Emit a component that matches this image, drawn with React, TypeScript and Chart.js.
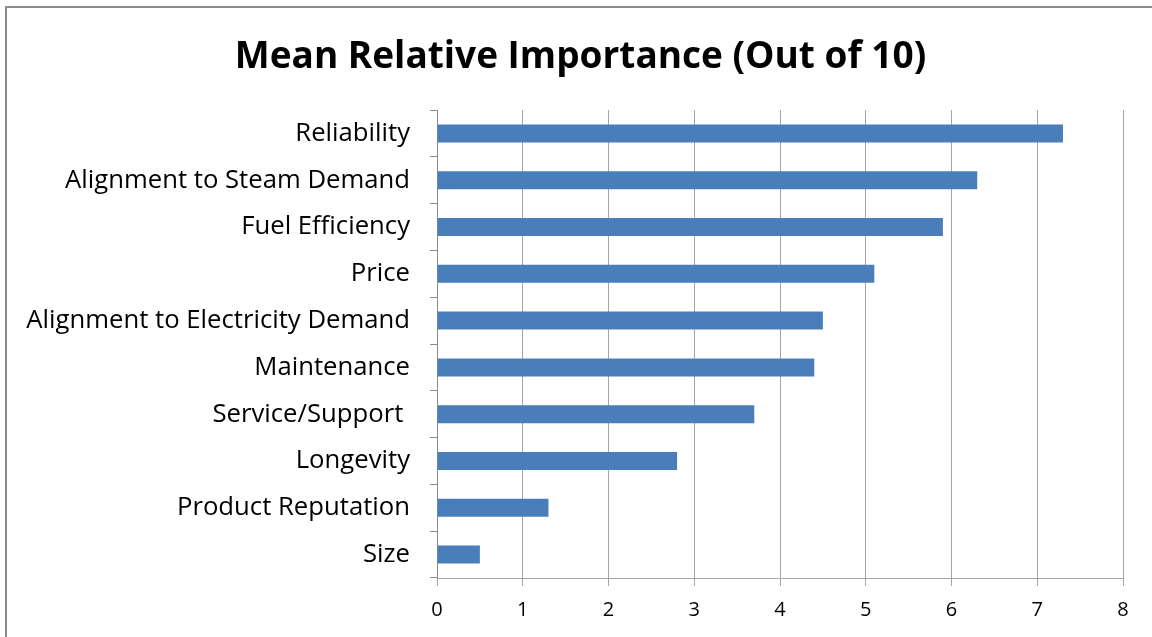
import React, { useEffect, useRef } from "react";
import { Chart, registerables } from "chart.js";

Chart.register(...registerables);

const categories = [
  "Reliability",
  "Alignment to Steam Demand",
  "Fuel Efficiency",
  "Price",
  "Alignment to Electricity Demand",
  "Maintenance",
  "Service/Support ",
  "Longevity",
  "Product Reputation",
  "Size",
];
const values = [7.3, 6.3, 5.9, 5.1, 4.5, 4.4, 3.7, 2.8, 1.3, 0.5];
const titleText = "Mean Relative Importance (Out of 10)";
const xMin = 0;
const xMax = 8;

const FONT = "'Open Sans', Lato, sans-serif";

const titleShift = {
  id: "titleShift",
  afterLayout(chart: any) {
    if (chart.titleBlock) {
      chart.titleBlock.left = 38;
    }
  },
};

export default function App() {
  const ref = useRef<HTMLCanvasElement | null>(null);
  useEffect(() => {
    if (!ref.current) return;
    const chart = new Chart(ref.current, {
      type: "bar",
      data: {
        labels: categories,
        datasets: [
          {
            data: values,
            backgroundColor: "#4a7ebb",
            borderWidth: 0,
            barPercentage: 0.385,
            categoryPercentage: 1,
          },
        ],
      },
      plugins: [titleShift],
      options: {
        indexAxis: "y",
        animation: false,
        responsive: false,
        maintainAspectRatio: false,
        layout: { padding: { left: 0, right: 29, top: 0, bottom: 0 } },
        plugins: {
          legend: { display: false },
          tooltip: { enabled: false },
          title: {
            display: true,
            text: titleText,
            color: "#000",
            font: { family: FONT, size: 37, weight: "bold", lineHeight: 1.2 },
            padding: { top: 35, bottom: 30.6 },
          },
        },
        scales: {
          x: {
            type: "linear",
            min: xMin,
            max: xMax,
            ticks: {
              stepSize: 1,
              color: "#000",
              font: { family: FONT, size: 20 },
              padding: 12,
            },
            grid: {
              color: "#a6a6a6",
              lineWidth: 1,
              tickLength: 8,
              drawOnChartArea: true,
            },
            border: { color: "#a6a6a6", width: 1 },
            afterFit: (s: any) => {
              s.height = 59;
            },
          },
          y: {
            ticks: {
              color: "#000",
              font: { family: FONT, size: 25.7 },
              padding: 20,
              autoSkip: false,
            },
            grid: {
              offset: true,
              drawOnChartArea: false,
              color: "#8c8c8c",
              tickLength: 7,
            },
            border: { color: "#8c8c8c", width: 1 },
            afterFit: (s: any) => {
              s.width = 437;
            },
          },
        },
      },
    });
    return () => chart.destroy();
  }, []);

  return (
    <div
      style={{
        position: "fixed",
        left: 0,
        top: 0,
        width: 1152,
        height: 637,
        overflow: "hidden",
        background: "#fff",
      }}
    >
      <div
        style={{
          position: "absolute",
          left: 5,
          top: 6,
          width: 1200,
          height: 700,
          border: "2px solid #8c8c8c",
          boxSizing: "border-box",
        }}
      />
      <canvas
        ref={ref}
        width={1152}
        height={637}
        style={{ position: "absolute", left: 0, top: 0 }}
      />
    </div>
  );
}
